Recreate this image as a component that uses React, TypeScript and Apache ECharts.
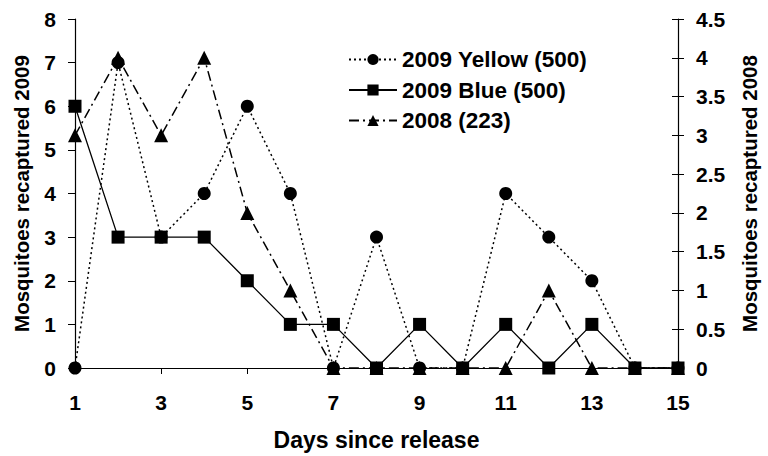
import React, { useEffect, useRef } from "react";
import * as echarts from "echarts";

const days = ["1","2","3","4","5","6","7","8","9","10","11","12","13","14","15"];
const yellow2009 = [0, 7, 3, 4, 6, 4, 0, 3, 0, 0, 4, 3, 2, 0, 0];
const blue2009 = [6, 3, 3, 3, 2, 1, 1, 0, 1, 0, 1, 0, 1, 0, 0];
const y2008 = [3, 4, 3, 4, 2, 1, 0, 0, 0, 0, 0, 1, 0, 0, 0];
const seriesNames = ["2009 Yellow (500)", "2009 Blue (500)", "2008 (223)"];

const FONT = "Liberation Sans";

export default function App() {
  const ref = useRef<HTMLDivElement>(null);
  useEffect(() => {
    if (!ref.current) return;
    const chart = echarts.init(ref.current, null, { renderer: "svg" });
    const tickStyle = { color: "#000", fontFamily: FONT, fontWeight: "bold" as const, fontSize: 21 };
    const titleStyle = { color: "#000", fontFamily: FONT, fontWeight: "bold" as const, fontSize: 23 };
    const vTitleStyle = { color: "#000", fontFamily: FONT, fontWeight: "bold" as const, fontSize: 20.5 };
    chart.setOption({
      animation: false,
      backgroundColor: "#fff",
      grid: { left: 75, right: 81, top: 19, bottom: 84 },
      legend: {
        orient: "vertical",
        left: 343,
        top: 43,
        itemWidth: 48,
        itemHeight: 14,
        itemGap: 7.5,
        textStyle: { color: "#000", fontFamily: FONT, fontWeight: "bold", fontSize: 22.5, lineHeight: 22 },
        data: seriesNames,
      },
      xAxis: [
        {
          type: "category",
          data: days,
          boundaryGap: false,
          name: "Days since release",
          nameLocation: "middle",
          nameGap: 60,
          nameTextStyle: titleStyle,
          axisLine: { lineStyle: { color: "#000", width: 1.2 } },
          axisTick: { show: true, interval: 1, length: 6, lineStyle: { color: "#000" } },
          axisLabel: { ...tickStyle, interval: 1, margin: 24 },
          splitLine: { show: false },
        },
        {
          type: "category",
          data: days,
          boundaryGap: false,
          position: "top",
          axisLine: { show: true, lineStyle: { color: "#000", width: 1.2 } },
          axisTick: { show: false },
          axisLabel: { show: false },
        },
      ],
      yAxis: [
        {
          type: "value",
          min: 0,
          max: 8,
          interval: 1,
          position: "left",
          name: "Mosquitoes recaptured 2009",
          nameLocation: "middle",
          nameGap: 43,
          nameTextStyle: vTitleStyle,
          axisLine: { show: true, lineStyle: { color: "#000", width: 1.2 } },
          axisTick: { show: true, length: 7, lineStyle: { color: "#000" } },
          axisLabel: { ...tickStyle, margin: 19 },
          splitLine: { show: false },
        },
        {
          type: "value",
          min: 0,
          max: 4.5,
          interval: 0.5,
          position: "right",
          name: "Mosquitoes recaptured 2008",
          nameLocation: "middle",
          nameGap: 61,
          nameRotate: 90,
          nameTextStyle: vTitleStyle,
          axisLine: { show: true, lineStyle: { color: "#000", width: 1.2 } },
          axisTick: { show: true, length: 6, lineStyle: { color: "#000" } },
          axisLabel: { ...tickStyle, margin: 18 },
          splitLine: { show: false },
        },
        {
          type: "value",
          min: 0,
          max: 4.5,
          interval: 0.5,
          position: "right",
          axisLine: { show: false },
          axisTick: { show: true, inside: true, length: 6, lineStyle: { color: "#000" } },
          axisLabel: { show: false },
          splitLine: { show: false },
        },
      ],
      series: [
        {
          name: seriesNames[0],
          type: "line",
          data: yellow2009,
          yAxisIndex: 0,
          symbol: "circle",
          symbolSize: 13,
          itemStyle: { color: "#000" },
          lineStyle: { color: "#000", width: 1.5, type: [2, 3] },
          z: 3,
        },
        {
          name: seriesNames[1],
          type: "line",
          data: blue2009,
          yAxisIndex: 0,
          symbol: "rect",
          symbolSize: 13,
          itemStyle: { color: "#000" },
          lineStyle: { color: "#000", width: 1.3, type: "solid" },
          z: 4,
        },
        {
          name: seriesNames[2],
          type: "line",
          data: y2008,
          yAxisIndex: 1,
          symbol: "triangle",
          symbolSize: 14,
          itemStyle: { color: "#000" },
          lineStyle: { color: "#000", width: 1.5, type: [10, 4, 2, 4] },
          z: 5,
        },
      ],
    });
    return () => chart.dispose();
  }, []);
  return <div ref={ref} style={{ position: "absolute", left: 0, top: 0, width: 768, height: 456 }} />;
}
